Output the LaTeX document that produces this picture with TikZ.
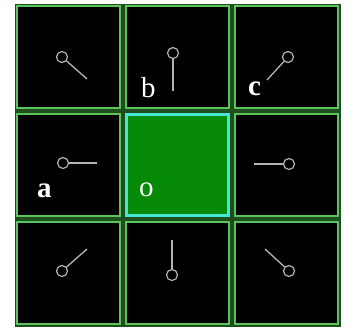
\documentclass[tikz,border=0pt]{standalone}
\usepackage{fontspec}
\setmainfont{Liberation Serif}
\definecolor{cellgreen}{HTML}{5CC25C}
\definecolor{gapgreen}{HTML}{1E4E1E}
\definecolor{centregreen}{HTML}{078A07}
\definecolor{centrecyan}{HTML}{45E6D2}
\definecolor{pingray}{HTML}{B4B4B4}

\begin{document}
\begin{tikzpicture}[x=1pt,y=-1pt,
  cell/.style={draw=cellgreen,fill=black,line width=1.4pt,minimum width=103pt,
    minimum height=102pt,inner sep=0pt},
  centre/.style={cell,draw=centrecyan,fill=centregreen,line width=3pt,
    minimum width=102pt,minimum height=101pt},
  knob/.style={circle,draw=pingray,line width=1.2pt,minimum size=11pt,inner sep=0pt},
  pin/.style={draw=pingray,line width=1.3pt},
  lbl/.style={text=white,inner sep=0pt,font=\fontsize{29}{29}\selectfont}]
  \useasboundingbox (0,0) rectangle (352,327);
  \fill[gapgreen] (15,4) rectangle (341,327);
  % the nine cells
  \node[cell] (nw) at (68.5,57) {};
  \node[cell] (n) at (177.5,57) {};
  \node[cell] (ne) at (286.5,57) {};
  \node[cell] (w) at (68.5,165) {};
  \node[centre] (o) at (177.5,165) {};
  \node[cell] (e) at (286.5,165) {};
  \node[cell] (sw) at (68.5,273) {};
  \node[cell] (s) at (177.5,273) {};
  \node[cell] (se) at (286.5,273) {};
  % pins pointing at the centre
  \node[knob] (nwk) at (62,57) {};
  \coordinate (nwt) at (87,79);
  \node[knob] (nk) at (173,53) {};
  \coordinate (nt) at (173,91);
  \node[knob] (nek) at (288,57) {};
  \coordinate (net) at (267,80);
  \node[knob] (wk) at (63,163) {};
  \coordinate (wt) at (97,163);
  \node[knob] (ek) at (289,164) {};
  \coordinate (et) at (254,164);
  \node[knob] (swk) at (62,271) {};
  \coordinate (swt) at (87,249);
  \node[knob] (sk) at (172,275) {};
  \coordinate (st) at (172,240);
  \node[knob] (sek) at (289,271) {};
  \coordinate (set) at (265,249);
  \draw[pin] (nwk)--(nwt);
  \draw[pin] (nk)--(nt);
  \draw[pin] (nek)--(net);
  \draw[pin] (wk)--(wt);
  \draw[pin] (ek)--(et);
  \draw[pin] (swk)--(swt);
  \draw[pin] (sk)--(st);
  \draw[pin] (sek)--(set);
  % labels
  \node[lbl,anchor=base west] (lb) at (141,97) {b};
  \node[lbl,anchor=base west] (lc) at (248,95) {\bfseries c};
  \node[lbl,anchor=base west] (la) at (37,197) {\bfseries a};
  \node[lbl,anchor=base west] (lo) at (139,196) {o};
\end{tikzpicture}
\end{document}
